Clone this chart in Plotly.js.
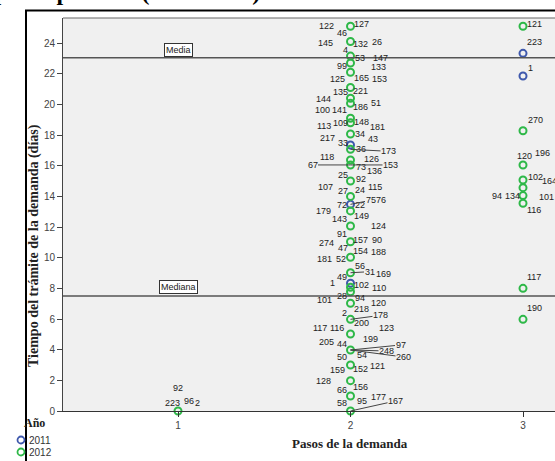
<!DOCTYPE html>
<html>
<head>
<meta charset="utf-8">
<script src="https://cdn.plot.ly/plotly-3.0.1.min.js"></script>
<style>html,body{margin:0;padding:0;background:#fff;}#chart{width:555px;height:461px;}</style>
</head>
<body>
<div id="chart"></div>
<script>
// ---- DATA ----
const pasoTicks = [1, 2, 3];
const pasoTickLabels = ["1", "2", "3"];

const paso2011   = [2, 2, 2, 3, 3];
const tiempo2011 = [17.35, 13.48, 8.33, 23.33, 21.85];

const paso2012 = [1,
  2,2,2,2,2,2,2,2,2,2,2,2,2,2,2,2,2,2,2,2,2,2,2,2,2,2,2,2,2,2,2,
  3,3,3,3,3,3,3,3,3];
const tiempo2012 = [0,
  25.1,24.1,23.15,22.7,22.1,21.1,20.4,20.07,19.1,18.8,18.07,17.07,16.37,16.05,15.0,14.0,13.05,12.07,11.04,10.03,9.02,8.07,7.78,7.03,5.98,5.02,3.98,3.0,1.98,0.98,0,
  25.1,18.28,16.05,15.07,14.57,14.05,13.55,8.0,5.98];

const MEDIA = 23.05;
const MEDIANA = 7.5;

// case-number labels: id, paso, tiempo of the labelled point
const labelCase = [
 "92","223","96","2",
 "122","46","127","145","132","26","4","53","147","99","133","125","165","153","135","221",
 "144","100","141","186","51","113","109","148","181","217","34","43","33","36","173",
 "118","126","67","73","153","136","25","92","107","27","24","115","72","22","75","76",
 "179","143","149","124","91","274","47","157","90","181","52","154","188",
 "49","56","31","169","1","102","110","101","28","94","120",
 "2","218","178","200","117","116","123","205","44","199","50","54","248","97","260",
 "159","152","121","128","66","156","58","95","177","167",
 "121","223","1","270","120","196","102","164","94","134","101","116","117","190"];
const labelPaso = [
 1,1,1,1,
 2,2,2,2,2,2,2,2,2,2,2,2,2,2,2,2,
 2,2,2,2,2,2,2,2,2,2,2,2,2,2,2,
 2,2,2,2,2,2,2,2,2,2,2,2,2,2,2,2,
 2,2,2,2,2,2,2,2,2,2,2,2,2,
 2,2,2,2,2,2,2,2,2,2,2,
 2,2,2,2,2,2,2,2,2,2,2,2,2,2,2,
 2,2,2,2,2,2,2,2,2,2,
 3,3,3,3,3,3,3,3,3,3,3,3,3,3];
const labelTiempo = [
 0,0,0,0,
 25.1,25.1,25.1,24.1,24.1,24.1,23.15,23.15,23.15,22.7,22.7,22.1,22.1,22.1,21.1,21.1,
 20.4,20.07,20.07,20.07,20.07,19.1,19.1,19.1,19.1,18.07,18.07,18.07,17.35,17.07,17.07,
 16.37,16.37,16.05,16.05,16.05,16.05,15.0,15.0,14.0,14.0,14.0,14.0,13.48,13.48,13.48,13.48,
 13.05,13.05,13.05,12.07,11.04,11.04,11.04,11.04,11.04,10.03,10.03,10.03,10.03,
 9.02,9.02,9.02,9.02,8.33,8.33,8.33,7.78,7.78,7.78,7.03,
 5.98,5.98,5.98,5.98,5.02,5.02,5.02,3.98,3.98,3.98,3.98,3.98,3.98,3.98,3.98,
 3.0,3.0,3.0,1.98,1.98,1.98,0.98,0.98,0.98,0,
 25.1,23.33,21.85,18.28,16.05,16.05,15.07,15.07,14.05,14.05,14.05,13.55,8.0,5.98];

// ---- LABEL PLACEMENT (pixel offsets from the point: dx, dy(down), leader line) ----
const labelOffsets = [
 [0,-23,0],[-6,-8,0],[11,-10,0],[19,-8,0],
 [-24,0,0],[-9,7,0],[11,-2,0],[-25,1,0],[10,2,0],[26,0,0],[-5,-6,0],[9,2,0],[30,2,0],[-9,3,0],[28,4,0],[-13,7,0],[11,6,0],[29,7,0],[-10,4,0],[10,3,0],
 [-27,1,0],[-28,7,0],[-11,7,0],[10,4,0],[25,0,0],[-27,8,0],[-10,5,0],[11,4,0],[27,9,0],[-23,4,0],[9,0,0],[22,5,0],[-8,-2,0],[10,0,0],[38,2,1],
 [-24,-3,0],[21,-1,0],[-38,0,1],[10,2,0],[40,0,1],[24,6,0],[-8,-6,0],[10,-2,0],[-25,-9,0],[-8,-5,0],[9,-6,0],[24,-9,0],[-9,1,0],[9,1,0],[20,-4,1],[30,-4,0],
 [-27,0,0],[-11,8,0],[11,5,0],[28,0,0],[-9,-8,0],[-24,1,0],[-8,6,0],[10,-2,0],[26,-2,0],[-26,2,0],[-10,2,0],[10,-6,0],[28,-5,0],
 [-9,4,0],[9,-7,0],[19,-1,1],[33,1,0],[-18,0,0],[11,2,0],[28,5,0],[-26,8,0],[-9,4,0],[9,6,0],[28,0,0],
 [-6,-6,0],[11,-10,0],[30,-4,1],[11,4,0],[-31,-6,0],[-14,-6,0],[36,-6,0],[-24,-8,0],[-9,-6,0],[20,-11,0],[-9,7,0],[11,5,0],[36,1,1],[50,-5,1],[53,7,1],
 [-13,5,0],[10,4,0],[27,1,0],[-27,0,0],[-9,9,0],[10,6,0],[-9,7,0],[11,5,0],[28,1,0],[45,-10,1],
 [11,-2,0],[11,-11,0],[7,-8,0],[12,-11,0],[1,-9,0],[19,-12,0],[12,-3,0],[26,1,0],[-26,0,0],[-11,0,0],[23,1,0],[11,7,0],[11,-11,0],[11,-11,0]];

const BLUE = '#3e58ac';
const GREEN = '#2eb848';
const SANS = 'Liberation Sans, Arial, sans-serif';
const SERIF = 'Liberation Serif, Times New Roman, serif';

const traces = [
  {x: paso2011, y: tiempo2011, type: 'scatter', mode: 'markers', name: '2011', cliponaxis: false,
   marker: {symbol: 'circle-open', size: 7, color: BLUE, line: {width: 2, color: BLUE}}, hoverinfo: 'skip'},
  {x: paso2012, y: tiempo2012, type: 'scatter', mode: 'markers', name: '2012', cliponaxis: false,
   marker: {symbol: 'circle-open', size: 7, color: GREEN, line: {width: 2, color: GREEN}}, hoverinfo: 'skip'}
];

const W = 555, H = 461, L = 63, R = 0, T = 18, B = 50;
const pw = W - L - R, ph = H - T - B;
const px = v => (v - L) / pw;          // pixel x -> paper
const py = v => (H - B - v) / ph;      // pixel y -> paper

const annotations = [];
for (let i = 0; i < labelCase.length; i++) {
  const o = labelOffsets[i];
  const a = {xref: 'x', yref: 'y', x: labelPaso[i], y: labelTiempo[i], text: labelCase[i],
             font: {family: SANS, size: 9, color: '#222'}, xanchor: 'center', yanchor: 'middle', borderpad: 0};
  if (o[2]) {
    Object.assign(a, {showarrow: true, arrowhead: 0, arrowwidth: 1, arrowcolor: '#444', ax: o[0], ay: o[1], axref: 'pixel', ayref: 'pixel', standoff: 0});
  } else {
    Object.assign(a, {showarrow: false, xshift: o[0], yshift: -o[1]});
  }
  annotations.push(a);
}
// reference line labels
annotations.push({xref: 'x', yref: 'y', x: 1, y: MEDIA, text: 'Media', showarrow: false, xanchor: 'center', yanchor: 'bottom', yshift: 1,
  font: {family: SANS, size: 9, color: '#222'}, bgcolor: '#fff', bordercolor: '#333', borderwidth: 1, borderpad: 1});
annotations.push({xref: 'x', yref: 'y', x: 1, y: MEDIANA, text: 'Mediana', showarrow: false, xanchor: 'center', yanchor: 'bottom', yshift: 2,
  font: {family: SANS, size: 9, color: '#222'}, bgcolor: '#fff', bordercolor: '#333', borderwidth: 1, borderpad: 1});
// axis titles
annotations.push({xref: 'paper', yref: 'paper', x: px(34), y: py(246), xanchor: 'center', yanchor: 'middle',
  text: '<b>Tiempo del trámite de la demanda (días)</b>',
  textangle: -90, showarrow: false, font: {family: SERIF, size: 14, color: '#222'}});
annotations.push({xref: 'paper', yref: 'paper', x: px(350), y: py(443), xanchor: 'center', yanchor: 'middle',
  text: '<b>Pasos de la demanda</b>', showarrow: false, font: {family: SERIF, size: 13, color: '#222'}});
// legend
annotations.push({xref: 'paper', yref: 'paper', x: px(34), y: py(423), xanchor: 'center', yanchor: 'middle',
  text: '<b>Año</b>', showarrow: false, font: {family: SERIF, size: 12, color: '#222'}});
annotations.push({xref: 'paper', yref: 'paper', x: px(27), y: py(440), xanchor: 'left', yanchor: 'middle',
  text: '2011', showarrow: false, font: {family: SANS, size: 10, color: '#333'}});
annotations.push({xref: 'paper', yref: 'paper', x: px(27), y: py(452), xanchor: 'left', yanchor: 'middle',
  text: '2012', showarrow: false, font: {family: SANS, size: 10, color: '#333'}});
// cut-off title at the top
annotations.push({xref: 'paper', yref: 'paper', x: px(262), y: py(7), xanchor: 'right', yanchor: 'bottom',
  text: '<b>Tiempo del trámite según pasos por año (2011-2012)</b>', showarrow: false,
  font: {family: SERIF, size: 24, color: '#000'}});

const shapes = [
  {type: 'line', xref: 'paper', yref: 'y', x0: 0, x1: 1, y0: MEDIA, y1: MEDIA, line: {color: '#555', width: 1.5}},
  {type: 'line', xref: 'paper', yref: 'y', x0: 0, x1: 1, y0: MEDIANA, y1: MEDIANA, line: {color: '#555', width: 1.5}},
  {type: 'line', xref: 'paper', yref: 'paper', x0: 0, x1: 1, y0: 1, y1: 1, line: {color: '#666', width: 1}},
  {type: 'line', xref: 'paper', yref: 'paper', x0: px(25), x1: px(556), y0: py(10.5), y1: py(10.5), line: {color: '#000', width: 2}},
  {type: 'line', xref: 'paper', yref: 'paper', x0: px(26), x1: px(26), y0: py(10), y1: py(462), line: {color: '#000', width: 2}},
  {type: 'circle', xref: 'paper', yref: 'paper', xsizemode: 'pixel', ysizemode: 'pixel', xanchor: px(21), yanchor: py(440),
   x0: -3.5, x1: 3.5, y0: -3.5, y1: 3.5, line: {color: BLUE, width: 1.8}},
  {type: 'circle', xref: 'paper', yref: 'paper', xsizemode: 'pixel', ysizemode: 'pixel', xanchor: px(21), yanchor: py(452),
   x0: -3.5, x1: 3.5, y0: -3.5, y1: 3.5, line: {color: GREEN, width: 1.8}}
];

const layout = {
  width: W, height: H, margin: {l: L, r: R, t: T, b: B, pad: 0},
  paper_bgcolor: '#fff', plot_bgcolor: '#f0f0f0', showlegend: false,
  font: {family: SANS, size: 10, color: '#444'},
  xaxis: {range: [1 - 115 / 172.5, 1 + 377 / 172.5], tickvals: pasoTicks, ticktext: pasoTickLabels,
    showgrid: false, zeroline: false, showline: true, linecolor: '#333', linewidth: 1,
    ticks: 'outside', ticklen: 5, tickcolor: '#333', tickfont: {family: SANS, size: 10, color: '#444'}},
  yaxis: {range: [0, 393 / 15.33], dtick: 2, tick0: 0, showgrid: false, zeroline: false,
    showline: true, linecolor: '#444', linewidth: 1, ticks: 'outside', ticklen: 5, tickcolor: '#444',
    tickfont: {family: SANS, size: 10, color: '#444'}},
  annotations: annotations, shapes: shapes
};

Plotly.newPlot('chart', traces, layout, {displayModeBar: false, staticPlot: true});
</script>
</body>
</html>
